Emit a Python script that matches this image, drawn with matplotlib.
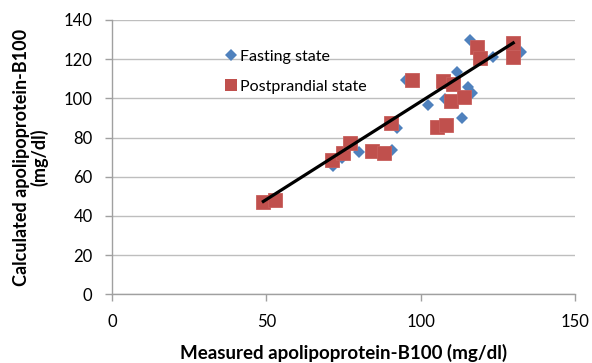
import numpy as np
import matplotlib
matplotlib.use("Agg")
import matplotlib.pyplot as plt
from matplotlib.lines import Line2D

plt.rcParams['font.family'] = ['Lato', 'DejaVu Sans']

# Fasting state (measured, calculated)
fasting_x = [50.0, 52.5, 71.6, 74.6, 80.0, 90.5, 92.2, 95.2, 102.2, 107.8,
             111.7, 115.4, 116.6, 113.2, 115.9, 123.3, 132.5]
fasting_y = [46.5, 48.0, 65.5, 69.4, 72.8, 73.7, 84.7, 109.4, 96.6, 99.6,
             113.5, 106.0, 102.6, 89.8, 129.8, 121.3, 123.8]

# Postprandial state (measured, calculated)
post_x = [49.0, 52.8, 71.1, 74.9, 77.0, 84.1, 88.1, 90.2, 97.0, 105.1,
          108.1, 107.3, 110.3, 109.9, 113.9, 118.1, 119.1, 129.9, 129.9]
post_y = [47.3, 48.1, 68.6, 72.0, 77.1, 73.1, 72.0, 87.3, 109.4, 85.6,
          86.4, 109.0, 107.2, 98.5, 100.9, 126.4, 120.8, 128.1, 121.3]

# Trend line (calculated = slope*measured + intercept)
trend_slope = 1.0
trend_intercept = -1.6

x_ticks = [0, 50, 100, 150]
y_ticks = [0, 20, 40, 60, 80, 100, 120, 140]

blue = '#4F81BD'
red = '#C0504D'

fig = plt.figure(figsize=(5.92, 3.63), dpi=100)
ax = fig.add_axes([112/592, 1-294.3/363, (575.3-112)/592, (294.3-20)/363])

ax.plot(fasting_x, fasting_y, linestyle='none', marker='D', markersize=6.0,
        color=blue, markeredgewidth=0, zorder=3)
ax.plot(post_x, post_y, linestyle='none', marker='s', markersize=9.8,
        color=red, markeredgecolor='#C85F5C', markeredgewidth=0.6, zorder=4)

xl = np.array([min(post_x), max(post_x)])
ax.plot(xl, trend_slope*xl + trend_intercept, color='black', linewidth=2.3,
        zorder=5)

ax.set_xlim(0, 150)
ax.set_ylim(0, 140)
ax.set_xticks(x_ticks)
ax.set_yticks(y_ticks)
ax.grid(axis='y', color='#BEBEBE', linewidth=1.0)
ax.set_axisbelow(True)
for s in ['top', 'right']:
    ax.spines[s].set_visible(False)
for s in ['left', 'bottom']:
    ax.spines[s].set_color('#A0A0A0')
    ax.spines[s].set_linewidth(1.0)
ax.tick_params(axis='both', colors='#A0A0A0', labelcolor='black', length=5,
               width=1.0, pad=9, labelsize=12)

ax.set_xlabel('Measured apolipoprotein-B100 (mg/dl)', fontsize=13.5,
              fontweight='bold', labelpad=10)
ax.set_ylabel('Calculated apolipoprotein-B100\n(mg/dl)', fontsize=13,
              fontweight='bold', labelpad=11, linespacing=1.05)

handles = [Line2D([], [], linestyle='none', marker='D', markersize=6.5,
                  color=blue, markeredgewidth=0),
           Line2D([], [], linestyle='none', marker='s', markersize=9,
                  color=red, markeredgewidth=0)]
ax.legend(handles, ['Fasting state', 'Postprandial state'], frameon=False,
          loc='upper left', bbox_to_anchor=(0.233, 0.915), fontsize=11.5,
          handlelength=0.6, handletextpad=0.25, labelspacing=1.0,
          borderaxespad=0)

fig.savefig('out.png', dpi=100)
